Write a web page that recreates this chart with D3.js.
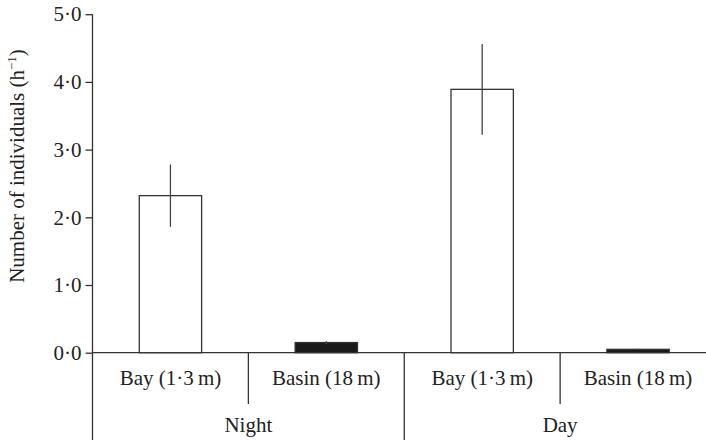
<!DOCTYPE html>
<html>
<head>
<meta charset="utf-8">
<script src="https://cdn.jsdelivr.net/npm/d3@7"></script>
<style>
  body { margin: 0; background: #fff; }
  svg text { font-family: "Liberation Serif", "Times New Roman", serif; fill: #222; }
</style>
</head>
<body>
<div id="chart"></div>
<script>
// Data
const periods = ["Night", "Day"];
const sites = ["Bay (1\u00b73\u2009m)", "Basin (18\u2009m)"];
const nightMeans = [2.32, 0.15];
const dayMeans = [3.89, 0.05];
const nightSE = [0.46, 0.02];
const daySE = [0.67, 0.01];
const yTicks = [0, 1, 2, 3, 4, 5];

const width = 706, height = 440;
const x0 = 92.5, xEnd = 716; // panel runs past the right edge
const yTop = 14.2, yBase = 352.7;
const fontSize = 21;

const svg = d3.select("#chart").append("svg")
  .attr("width", width)
  .attr("height", height);

const bars = [];
periods.forEach((p, i) => {
  const means = i === 0 ? nightMeans : dayMeans;
  const se = i === 0 ? nightSE : daySE;
  sites.forEach((s, j) => bars.push({ period: p, site: s, mean: means[j], se: se[j], dark: j === 1 }));
});

const xOuter = d3.scaleBand().domain(periods).range([x0, xEnd]);
const xInner = d3.scaleBand().domain(sites).range([0, xOuter.bandwidth()]);
const y = d3.scaleLinear().domain([0, 5]).range([yBase, yTop]);

const barW = xInner.bandwidth() * 0.4;
const cx = d => xOuter(d.period) + xInner(d.site) + xInner.bandwidth() / 2;

// y axis
const yAxis = svg.append("g").attr("transform", `translate(${x0},0)`)
  .call(d3.axisLeft(y).tickValues(yTicks).tickSize(7).tickSizeOuter(0)
    .tickFormat(d => d.toFixed(1).replace(".", "\u00b7")));
yAxis.attr("font-family", null).attr("font-size", null);
yAxis.select(".domain").remove();
yAxis.selectAll(".tick line").attr("stroke", "#333").attr("stroke-width", 1.3);
yAxis.selectAll(".tick text").attr("font-size", fontSize).attr("x", -11).attr("fill", "#222");

// axis lines
svg.append("line").attr("x1", x0).attr("x2", x0).attr("y1", yTop).attr("y2", height)
  .attr("stroke", "#333").attr("stroke-width", 1.3);
svg.append("line").attr("x1", x0).attr("x2", xEnd).attr("y1", yBase).attr("y2", yBase)
  .attr("stroke", "#333").attr("stroke-width", 1.3);

// bars
svg.selectAll("rect.bar").data(bars).join("rect")
  .attr("class", "bar")
  .attr("x", d => cx(d) - barW / 2)
  .attr("width", barW)
  .attr("y", d => y(d.mean))
  .attr("height", d => yBase - y(d.mean))
  .attr("fill", d => d.dark ? "#1a1a1a" : "#fff")
  .attr("stroke", "#333")
  .attr("stroke-width", 1.3);

// error bars (no caps)
svg.selectAll("line.err").data(bars).join("line")
  .attr("class", "err")
  .attr("x1", cx).attr("x2", cx)
  .attr("y1", d => y(d.mean + d.se))
  .attr("y2", d => y(d.mean - d.se))
  .attr("stroke", "#444")
  .attr("stroke-width", 1.3);

// category separators
periods.forEach(p => {
  sites.forEach((s, j) => {
    if (j === 0) return;
    const xs = xOuter(p) + xInner(s);
    svg.append("line").attr("x1", xs).attr("x2", xs).attr("y1", yBase).attr("y2", 404)
      .attr("stroke", "#333").attr("stroke-width", 1.3);
  });
  const xe = xOuter(p) + xOuter.bandwidth();
  svg.append("line").attr("x1", xe).attr("x2", xe).attr("y1", yBase).attr("y2", height)
    .attr("stroke", "#333").attr("stroke-width", 1.3);
});

// site labels
svg.selectAll("text.site").data(bars).join("text")
  .attr("class", "site")
  .attr("x", cx)
  .attr("y", 385)
  .attr("text-anchor", "middle")
  .attr("font-size", fontSize)
  .text(d => d.site);

// period labels
svg.selectAll("text.period").data(periods).join("text")
  .attr("class", "period")
  .attr("x", d => xOuter(d) + xOuter.bandwidth() / 2)
  .attr("y", 432)
  .attr("text-anchor", "middle")
  .attr("font-size", fontSize)
  .text(d => d);

// y label
const yl = svg.append("text")
  .attr("transform", "translate(24,166) rotate(-90)")
  .attr("text-anchor", "middle")
  .attr("font-size", fontSize);
yl.append("tspan").text("Number of individuals (h");
yl.append("tspan").attr("font-size", 13).attr("dy", -8).text("\u22121");
yl.append("tspan").attr("dy", 8).text(")");
</script>
</body>
</html>
